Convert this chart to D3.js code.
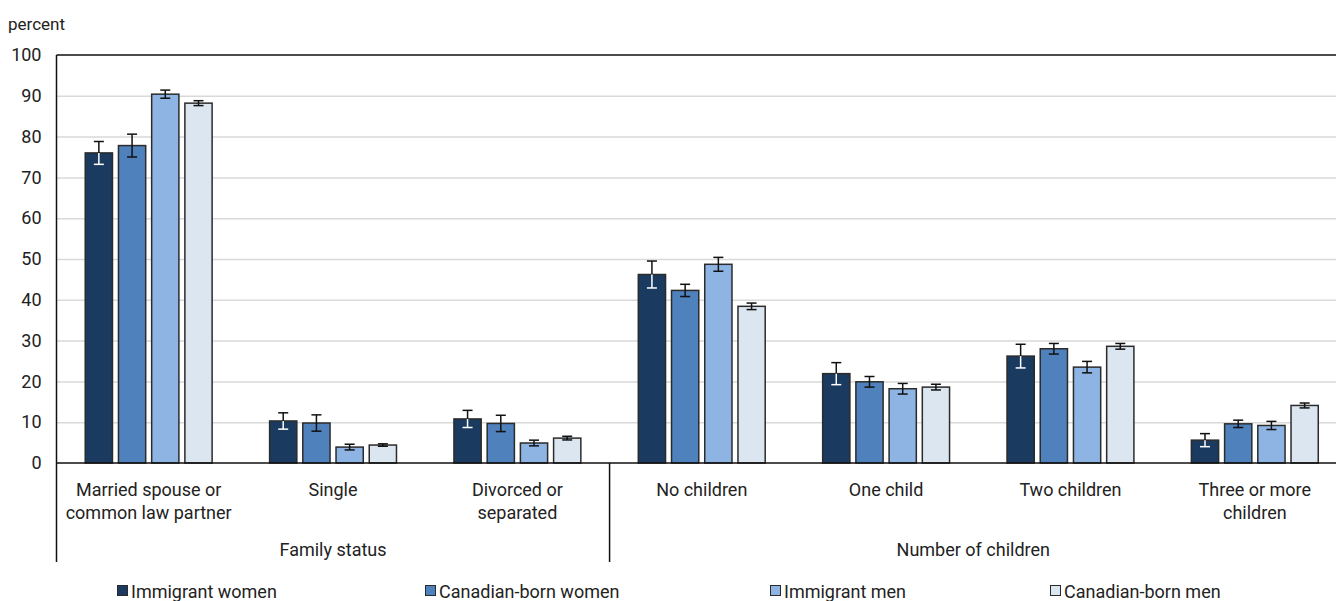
<!DOCTYPE html>
<html>
<head>
<meta charset="utf-8">
<script src="https://cdn.jsdelivr.net/npm/d3@7"></script>
<style>
  html, body { margin: 0; padding: 0; background: #fff; }
  svg { display: block; }
  text { font-family: Roboto, "Liberation Sans", Arial, sans-serif; fill: #222; }
</style>
</head>
<body>
<svg id="chart" width="1336" height="601"></svg>
<script>
// Categories along the x axis, with their two-line labels and group headings
const categories = ["married", "single", "divorced", "none", "one", "two", "three"];
const categoryLabels = [
  ["Married spouse or", "common law partner"],
  ["Single"],
  ["Divorced or", "separated"],
  ["No children"],
  ["One child"],
  ["Two children"],
  ["Three or more", "children"]
];
const groupNames = ["Family status", "Number of children"];
const groupSizes = [3, 4];

const seriesNames = ["Immigrant women", "Canadian-born women", "Immigrant men", "Canadian-born men"];
const seriesColors = ["#1b3a60", "#4f81bd", "#8db4e2", "#dce6f1"];

// Percent values per series, one entry per category
const immigrantWomen     = [76.0, 10.3, 10.8, 46.2, 21.9, 26.2, 5.6];
const canadianBornWomen  = [77.8,  9.8,  9.7, 42.3, 19.9, 28.0, 9.6];
const immigrantMen       = [90.4,  3.9,  4.9, 48.7, 18.2, 23.5, 9.2];
const canadianBornMen    = [88.2,  4.4,  6.1, 38.4, 18.6, 28.6, 14.1];

// Half-widths of the confidence intervals
const immigrantWomenErr    = [2.8, 2.0, 2.1, 3.3, 2.7, 2.9, 1.6];
const canadianBornWomenErr = [2.8, 2.0, 2.0, 1.5, 1.3, 1.3, 0.9];
const immigrantMenErr      = [1.0, 0.7, 0.7, 1.7, 1.3, 1.4, 1.0];
const canadianBornMenErr   = [0.6, 0.3, 0.45, 0.8, 0.7, 0.7, 0.6];

const yTicks = [0, 10, 20, 30, 40, 50, 60, 70, 80, 90, 100];

const seriesValues = [immigrantWomen, canadianBornWomen, immigrantMen, canadianBornMen];
const seriesErrors = [immigrantWomenErr, canadianBornWomenErr, immigrantMenErr, canadianBornMenErr];

const rows = [];
categories.forEach((c, i) => {
  seriesNames.forEach((s, j) => {
    rows.push({ cat: c, series: s, idx: j, value: seriesValues[j][i], err: seriesErrors[j][i] });
  });
});

const svg = d3.select("#chart");
const plotLeft = 56.5, plotRight = 1347, plotTop = 55, plotBottom = 463;

const x0 = d3.scaleBand().domain(categories).range([plotLeft, plotRight]).padding(0);
const x1 = d3.scaleBand().domain(seriesNames).range([0, x0.bandwidth()])
  .paddingInner(0.18).paddingOuter(0.865);
const y = d3.scaleLinear().domain([0, 100]).range([plotBottom, plotTop]);

// Horizontal gridlines
svg.append("g")
  .attr("transform", `translate(${plotLeft},0)`)
  .call(d3.axisLeft(y).tickValues(yTicks.filter(t => t > 0 && t < 100)).tickSize(-(1336 - plotLeft)).tickFormat(""))
  .call(g => g.select(".domain").remove())
  .call(g => g.selectAll("line").attr("stroke", "#d9d9d9").attr("stroke-width", 1.5));

// Y axis labels
svg.append("g")
  .attr("transform", `translate(${plotLeft - 15},0)`)
  .call(d3.axisLeft(y).tickValues(yTicks).tickSize(0).tickPadding(0))
  .call(g => g.select(".domain").remove())
  .call(g => g.selectAll("text")
    .attr("font-size", 18)
    .attr("fill", "#222")
    .style("font-family", "Roboto, 'Liberation Sans', Arial, sans-serif"));

svg.append("text").attr("x", 8).attr("y", 30).attr("font-size", 17).text("percent");

// Bars
const bars = svg.append("g");
bars.selectAll("rect").data(rows).join("rect")
  .attr("x", d => x0(d.cat) + x1(d.series))
  .attr("y", d => y(d.value))
  .attr("width", x1.bandwidth())
  .attr("height", d => y(0) - y(d.value))
  .attr("fill", d => seriesColors[d.idx])
  .attr("stroke", "#2b2b2b")
  .attr("stroke-width", 1.5);

// Error bars: the segment lying inside the darkest bar is drawn in white
const eb = svg.append("g").attr("stroke-width", 1.5);
rows.forEach(d => {
  const cx = x0(d.cat) + x1(d.series) + x1.bandwidth() / 2;
  const yTop = y(d.value + d.err), yMid = y(d.value), yBot = y(d.value - d.err);
  const lowColor = d.idx === 0 ? "#ffffff" : "#111";
  const cap = 5;
  eb.append("line").attr("x1", cx).attr("x2", cx).attr("y1", yTop).attr("y2", yMid).attr("stroke", "#111");
  eb.append("line").attr("x1", cx).attr("x2", cx).attr("y1", yMid).attr("y2", yBot).attr("stroke", lowColor);
  eb.append("line").attr("x1", cx - cap).attr("x2", cx + cap).attr("y1", yTop).attr("y2", yTop).attr("stroke", "#111");
  eb.append("line").attr("x1", cx - cap).attr("x2", cx + cap).attr("y1", yBot).attr("y2", yBot).attr("stroke", lowColor);
});

// Frame: top border, left axis line, baseline
svg.append("line").attr("x1", plotLeft).attr("x2", 1336).attr("y1", plotTop).attr("y2", plotTop)
  .attr("stroke", "#111").attr("stroke-width", 1.5);
svg.append("line").attr("x1", plotLeft).attr("x2", 1336).attr("y1", plotBottom).attr("y2", plotBottom)
  .attr("stroke", "#111").attr("stroke-width", 1.5);
svg.append("line").attr("x1", plotLeft).attr("x2", plotLeft).attr("y1", plotTop).attr("y2", 562)
  .attr("stroke", "#111").attr("stroke-width", 1.5);

// Category labels
categories.forEach((c, i) => {
  const cx = x0(c) + x0.bandwidth() / 2;
  const t = svg.append("text").attr("text-anchor", "middle").attr("font-size", 18);
  categoryLabels[i].forEach((line, k) => {
    t.append("tspan").attr("x", cx).attr("y", 496 + k * 23).text(line);
  });
});

// Group headings and dividers
let start = 0;
groupNames.forEach((g, gi) => {
  const first = categories[start];
  const last = categories[start + groupSizes[gi] - 1];
  const left = x0(first), right = x0(last) + x0.bandwidth();
  const mid = gi === groupNames.length - 1 ? (left + 1336) / 2 + (right - 1336) * 0 : (left + right) / 2;
  svg.append("text").attr("text-anchor", "middle").attr("font-size", 18)
    .attr("x", gi === 0 ? (left + right) / 2 : (left + right) / 2 - 5).attr("y", 556).text(g);
  if (gi < groupNames.length - 1) {
    svg.append("line").attr("x1", right).attr("x2", right).attr("y1", plotBottom).attr("y2", 562)
      .attr("stroke", "#111").attr("stroke-width", 1.5);
  }
  start += groupSizes[gi];
});

// Legend
const legendX = [117, 425, 770, 1050];
seriesNames.forEach((s, i) => {
  const g = svg.append("g").attr("transform", `translate(${legendX[i]},585)`);
  g.append("rect").attr("x", 0.5).attr("y", 0.5).attr("width", 10).attr("height", 10)
    .attr("fill", seriesColors[i]).attr("stroke", "#2b2b2b").attr("stroke-width", 1);
  g.append("text").attr("x", 14).attr("y", 13).attr("font-size", 18).text(s);
});
</script>
</body>
</html>
